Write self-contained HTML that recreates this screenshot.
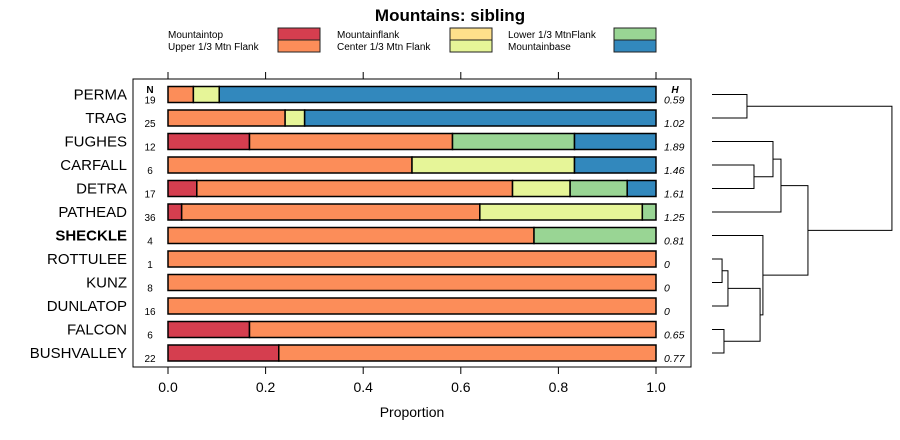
<!DOCTYPE html>
<html><head><meta charset="utf-8"><style>
body{margin:0;background:#fff;}
svg{display:block;font-family:"Liberation Sans",sans-serif;}
</style></head><body>
<svg id="c" width="900" height="440" viewBox="0 0 900 440">
<text x="450" y="21" text-anchor="middle" font-size="17" font-weight="bold">Mountains: sibling</text>
<g id="legend"></g>
<rect x="133" y="79" width="558" height="288" fill="none" stroke="#000" stroke-width="1"/>
<g id="bars"></g>
<g id="axis"></g>
<text x="412" y="417" text-anchor="middle" font-size="14">Proportion</text>
<text x="150" y="93" text-anchor="middle" font-size="10" font-weight="bold">N</text>
<text x="675" y="93" text-anchor="middle" font-size="10" font-weight="bold" font-style="italic">H</text>
<g id="dendro" fill="none" stroke="#000" stroke-width="1"></g>
</svg>
<script>
const sites = ["PERMA","TRAG","FUGHES","CARFALL","DETRA","PATHEAD","SHECKLE","ROTTULEE","KUNZ","DUNLATOP","FALCON","BUSHVALLEY"];
const nValues = [19,25,12,6,17,36,4,1,8,16,6,22];
const hValues = ["0.59","1.02","1.89","1.46","1.61","1.25","0.81","0","0","0","0.65","0.77"];
const categories = ["Mountaintop","Upper 1/3 Mtn Flank","Mountainflank","Center 1/3 Mtn Flank","Lower 1/3 MtnFlank","Mountainbase"];
const colors = ["#D53E4F","#FC8D59","#FEE08B","#E6F598","#99D594","#3288BD"];
const mountaintop = [0,0,0.167,0,0.059,0.028,0,0,0,0,0.167,0.227];
const upperFlank = [0.052,0.24,0.416,0.5,0.647,0.611,0.75,1,1,1,0.833,0.773];
const mountainflank = [0,0,0,0,0,0,0,0,0,0,0,0];
const centerFlank = [0.053,0.04,0,0.333,0.118,0.333,0,0,0,0,0,0];
const lowerFlank = [0,0,0.25,0,0.117,0.028,0.25,0,0,0,0,0];
const mountainbase = [0.895,0.72,0.167,0.167,0.059,0,0,0,0,0,0,0];
const ticks = [0,0.2,0.4,0.6,0.8,1.0];
const tickLabels = ["0.0","0.2","0.4","0.6","0.8","1.0"];
// dendrogram merges: [a, b, height] ; leaves 0..11, merges 12+
const merges = [[7,8,0.053],[12,9,0.084],[10,11,0.063],[13,14,0.253],[6,15,0.268],[3,4,0.221],[2,17,0.321],[18,5,0.363],[0,1,0.184],[19,16,0.505],[20,21,0.947]];

const NS="http://www.w3.org/2000/svg";
const X0=168,X1=656, Y0=94.5, DY=23.5, BH=16;
const xs=v=>X0+(X1-X0)*v, ys=i=>Y0+DY*i;
function el(tag,attrs,parent,txt){const e=document.createElementNS(NS,tag);for(const k in attrs)e.setAttribute(k,attrs[k]);if(txt!==undefined)e.textContent=txt;parent.appendChild(e);return e;}
const series=[mountaintop,upperFlank,mountainflank,centerFlank,lowerFlank,mountainbase];
const bars=document.getElementById('bars');
sites.forEach((s,i)=>{
  const y=ys(i);
  const lab=el('text',{x:127,y:y+5,'text-anchor':'end','font-size':15,'font-weight':s==="SHECKLE"?'bold':'normal'},bars,s);
  
  
  const nt=el('text',{x:150,y:y+9,'text-anchor':'middle','font-size':10},bars,nValues[i]);
  
  
  const ht=el('text',{x:664,y:y+9,'font-size':10.5,'font-style':'italic'},bars,hValues[i]);
  
  
  let acc=0;
  series.forEach((ser,k)=>{
    const v=ser[i]; if(v<=0)return;
    const r=el('rect',{x:xs(acc),y:y-BH/2,width:xs(acc+v)-xs(acc),height:BH,fill:colors[k],stroke:'#000','stroke-width':1.5},bars);
    
    
    acc+=v;
  });
});
const ax=document.getElementById('axis');
ticks.forEach((t,i)=>{
  el('line',{x1:xs(t),x2:xs(t),y1:367,y2:374,stroke:'#000'},ax);
  el('line',{x1:xs(t),x2:xs(t),y1:79,y2:72,stroke:'#000'},ax);
  const tl=el('text',{x:xs(t),y:392,'text-anchor':'middle','font-size':14},ax,tickLabels[i]);
  
  
});
const lg=document.getElementById('legend');
const lpos=[[168,34,278],[168,46,278],[337,34,450],[337,46,450],[508,34,614],[508,46,614]];
categories.forEach((c,k)=>{
  const p=lpos[k];
  const t=el('text',{x:p[0],y:p[1]+4,'font-size':10},lg,c);
  
  
  const r=el('rect',{x:p[2],y:p[1]-6,width:42,height:12,fill:colors[k],stroke:'#222','stroke-width':1},lg);
  
  
});
const dg=document.getElementById('dendro');
const LX=712, HX=190; const dx=h=>LX+HX*h;
const nodes=sites.map((s,i)=>({y:ys(i),h:0}));
merges.forEach(m=>{
  const a=nodes[m[0]],b=nodes[m[1]],x=dx(m[2]);
  const p=el('path',{d:`M${dx(a.h)},${a.y}H${x}V${b.y}H${dx(b.h)}`},dg);
  
  
  nodes.push({y:(a.y+b.y)/2,h:m[2]});
});
</script>
</body></html>
